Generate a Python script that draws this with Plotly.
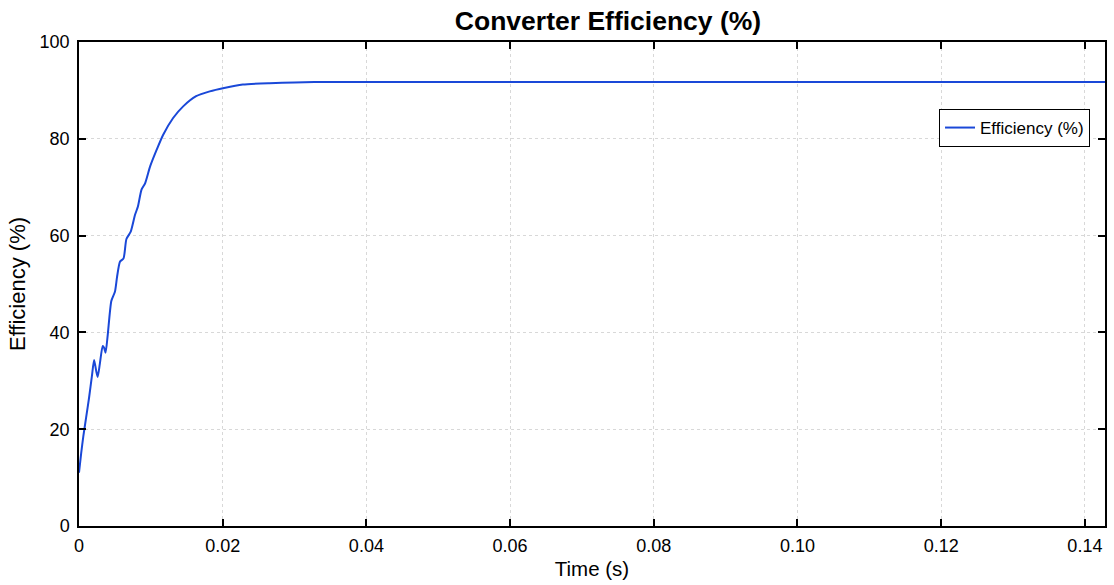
import plotly.graph_objects as go

# Data
time_s = [0.0, 0.0003, 0.0006, 0.0010, 0.0014, 0.0018, 0.0021, 0.0024, 0.0026,
          0.0029, 0.0033, 0.0035, 0.0037, 0.0040, 0.0045, 0.0050, 0.0053, 0.0057,
          0.0062, 0.0066, 0.0072, 0.0078, 0.0082, 0.0087, 0.0092, 0.0099, 0.0108,
          0.0117, 0.0131, 0.0145, 0.0163, 0.0182, 0.0202, 0.0228, 0.0265, 0.0300,
          0.0350, 0.0600, 0.0900, 0.1200, 0.1428]
efficiency = [11.0, 15.0, 18.5, 22.5, 26.5, 31.0, 34.3, 32.0, 30.8,
              33.5, 37.2, 36.8, 35.8, 39.5, 46.5, 48.4, 51.5, 54.6,
              55.3, 59.3, 60.8, 64.3, 66.0, 69.5, 70.8, 74.3, 77.7,
              80.8, 84.3, 86.7, 88.8, 89.8, 90.5, 91.2, 91.5, 91.65,
              91.75, 91.75, 91.75, 91.75, 91.75]

x_tickvals = [0, 0.02, 0.04, 0.06, 0.08, 0.10, 0.12, 0.14]
x_ticktext = ["0", "0.02", "0.04", "0.06", "0.08", "0.10", "0.12", "0.14"]
y_tickvals = [0, 20, 40, 60, 80, 100]

FONT = "Liberation Sans, Arial, sans-serif"
W, H = 1114, 585

fig = go.Figure()
fig.add_trace(go.Scatter(
    x=time_s, y=efficiency, mode="lines", name="Efficiency (%)",
    line=dict(color="#1a48d8", width=2, shape="spline", smoothing=0.6),
))

axis_common = dict(
    showline=True, linecolor="black", linewidth=1.5, mirror="ticks",
    ticks="inside", ticklen=7, tickwidth=1.5, tickcolor="black",
    showgrid=True, gridcolor="#d8d8d8", griddash="dot", gridwidth=1,
    zeroline=False, tickfont=dict(family=FONT, size=18, color="black"),
)

fig.update_layout(
    width=W, height=H,
    paper_bgcolor="white", plot_bgcolor="white",
    margin=dict(l=79, r=7, t=42, b=59),
    title=dict(text="<b>Converter Efficiency (%)</b>", x=608 / W, xref="container",
               xanchor="center", y=1 - 21 / H, yref="container", yanchor="middle",
               font=dict(family=FONT, size=26.5, color="black")),
    xaxis=dict(range=[0, 0.1428], tickvals=x_tickvals, ticktext=x_ticktext,
               ticklabelstandoff=3,
               title=dict(text="Time (s)", font=dict(family=FONT, size=20.5, color="black"), standoff=6),
               **axis_common),
    yaxis=dict(range=[0, 100], tickvals=y_tickvals, ticklabelstandoff=4,
               title=dict(text="Efficiency (%)", font=dict(family=FONT, size=22, color="black"), standoff=8),
               **axis_common),
    legend=dict(x=(1092 - 79) / 1028, y=(526 - 109) / 484, xanchor="right", yanchor="top",
                bgcolor="white", bordercolor="black", borderwidth=1,
                font=dict(family=FONT, size=17, color="black")),
    showlegend=True,
)

fig.write_html("out.html",
               config={"displayModeBar": False},
               post_script="document.body.style.margin='0';document.body.style.overflow='hidden';")
